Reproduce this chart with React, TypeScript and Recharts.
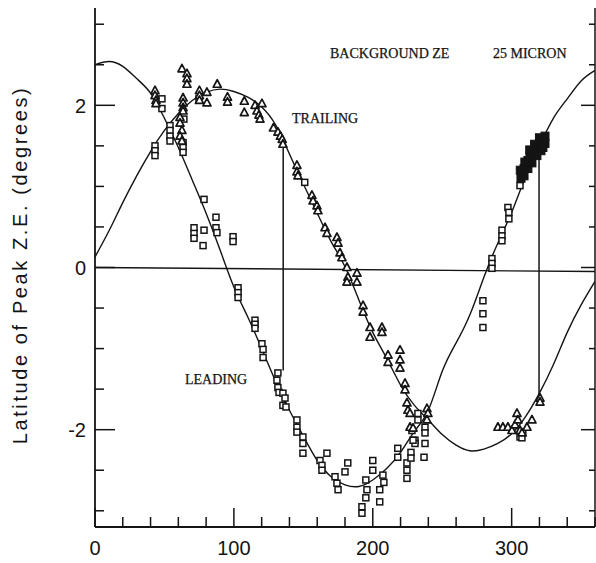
import { ComposedChart, Line, Scatter, XAxis, YAxis, ReferenceLine } from "recharts";

// longitude (deg) sampled every 10 for the two fitted curves
const curveLongitudes = [
  0, 10, 20, 30, 40, 50, 60, 70, 80, 90, 100, 110, 120, 130, 140, 150, 160, 170, 180,
  190, 200, 210, 220, 230, 240, 250, 260, 270, 280, 290, 300, 310, 320, 330, 340, 350, 360,
];
const leadingFit = [
  2.5, 2.54, 2.48, 2.33, 2.15, 1.84, 1.48, 1.08, 0.67, 0.22, -0.24, -0.61, -1.0, -1.4, -1.76,
  -2.08, -2.38, -2.58, -2.68, -2.7, -2.62, -2.48, -2.28, -2.02, -1.76, -1.28, -0.93, -0.58,
  -0.12, 0.3, 0.68, 1.12, 1.5, 1.84, 2.08, 2.3, 2.43,
];
const trailingFit = [
  0.13, 0.45, 0.8, 1.13, 1.43, 1.69, 1.9, 2.06, 2.16, 2.2, 2.17, 2.1, 1.98, 1.76, 1.4, 1.03,
  0.67, 0.32, 0.01, -0.4, -0.8, -1.12, -1.45, -1.7, -1.88, -2.06, -2.19, -2.26, -2.24, -2.17,
  -2.05, -1.84, -1.55, -1.2, -0.8, -0.46, -0.17,
];

// leading-side measurements (open squares)
const leadingPoints: [number, number][] = [
  [48.2, 2.08], [48.2, 1.96], [43.2, 1.5], [43.2, 1.44], [43.2, 1.38],
  [54, 1.75], [54, 1.69], [54, 1.62], [54, 1.56], [64, 1.83],
  [63.4, 1.54], [63.4, 1.48], [63.4, 1.42], [74.9, 2.08], [151, 1.05],
  [78.5, 0.84], [87.1, 0.62], [87.1, 0.49], [87.8, 0.43],
  [71.3, 0.49], [71.3, 0.42], [71.3, 0.36], [78.5, 0.46], [77.8, 0.27],
  [99.4, 0.38], [99.4, 0.32],
  [103, -0.25], [103, -0.31], [103, -0.37],
  [115.2, -0.65], [115.2, -0.7], [115.2, -0.75],
  [120.2, -0.94], [121, -1.01], [121, -1.11],
  [131.7, -1.3], [131, -1.39], [131.7, -1.48], [132.5, -1.54],
  [135.3, -1.55], [136.8, -1.61], [135.3, -1.7], [137.5, -1.72],
  [145.4, -1.88], [145.4, -1.97], [145.4, -2.03],
  [149.7, -2.09], [149.7, -2.17], [149.7, -2.29],
  [162, -2.38], [163.4, -2.44], [163.4, -2.5], [167, -2.29],
  [172.8, -2.58], [174.2, -2.66], [175, -2.74], [180, -2.52], [182, -2.41],
  [192.2, -2.95], [192.2, -3.03], [195, -2.62], [195.8, -2.74], [195, -2.84],
  [200, -2.38], [200, -2.5],
  [205, -2.74], [205, -2.89], [207.3, -2.56], [208, -2.65],
  [218, -2.23], [218, -2.34],
  [224.6, -2.41], [224.6, -2.5], [224.6, -2.6],
  [227.5, -2.28], [227.5, -2.35], [230.4, -2.13], [230.4, -2.17],
  [232.5, -1.8], [232.5, -1.88],
  [237.6, -1.97], [237.6, -2.04], [237.6, -2.17], [236.9, -2.34],
  [228.2, -2.01], [229, -2.13],
  [279.3, -0.41], [279.3, -0.57], [279.3, -0.74],
  [285.8, 0.11], [285.8, 0.05], [285.8, -0.01],
  [293, 0.46], [293, 0.39], [293, 0.33],
  [297.3, 0.74], [298, 0.68], [298, 0.6], [306, 1.01],
  [306, -2.09], [308, -2.04], [307.4, -2.1],
];

// dense run near 310-325 that prints as a solid band
const denseLeadingPoints: [number, number][] = [
  [306.7, 1.1], [307.4, 1.17], [308.9, 1.22], [310.3, 1.27], [311.7, 1.32],
  [313.2, 1.37], [314.6, 1.42], [316, 1.44], [317.5, 1.48], [318.9, 1.5],
  [320.4, 1.54], [321.8, 1.56], [323.3, 1.59], [324, 1.62], [324, 1.53],
  [321.1, 1.44], [318.2, 1.38], [314.6, 1.29], [311.7, 1.22], [308.9, 1.13],
  [306.2, 1.2], [309.5, 1.3], [313, 1.45], [316.5, 1.52], [320, 1.6], [322.5, 1.48],
];

// trailing-side measurements (triangles)
const trailingPoints: [number, number][] = [
  [43.2, 2.18], [43.2, 2.12], [43.9, 2.06], [43.9, 2.02],
  [62.6, 2.45], [66.2, 2.39], [66.2, 2.33], [66.2, 2.26],
  [63.4, 2.09], [63.4, 2.03], [63.4, 1.97], [63.4, 1.93],
  [61.2, 1.85], [61.2, 1.78], [62.6, 1.69], [61.2, 1.62], [62.6, 1.56],
  [75.2, 2.18], [75.2, 2.12], [75.2, 2.06], [80.6, 2.16], [80.6, 2.03],
  [88, 2.26], [95.4, 2.1], [95.4, 2.04], [107.5, 2.05], [107.5, 1.91],
  [115.2, 2.0], [116.6, 1.93], [118, 1.88], [120.2, 2.02], [118.8, 1.83],
  [128.5, 1.72], [131.7, 1.67], [133.5, 1.62], [134.8, 1.58], [135.3, 1.52],
  [145.4, 1.26], [145.4, 1.18], [146.1, 1.13],
  [156.2, 0.89], [157, 0.82], [159.8, 0.76], [160.5, 0.7],
  [165.6, 0.49], [167, 0.42],
  [174.2, 0.37], [175, 0.3], [176.4, 0.18], [177.8, 0.12],
  [181.4, 0.0], [182.1, -0.12], [181.4, -0.18], [188.6, -0.07], [188.6, -0.18],
  [193, -0.47], [193, -0.55],
  [198, -0.74], [198, -0.86], [206.6, -0.74], [206.6, -0.8],
  [211, -1.08], [211, -1.17], [219.6, -1.02], [219.6, -1.14], [219.6, -1.24],
  [223.2, -1.43], [223.2, -1.51], [224.6, -1.67], [225.3, -1.76], [226.8, -1.8],
  [226.8, -1.97], [229, -1.98], [239, -1.74], [239.7, -1.8], [239, -1.88],
  [290.1, -1.97], [293.7, -1.97], [297.3, -1.97], [300.2, -2.01], [302.4, -1.94],
  [303.8, -1.8], [304.5, -1.88], [306, -2.01], [307.4, -2.04], [311, -1.97],
  [314.6, -1.88], [320.4, -1.61], [320.4, -1.66],
];

// connectors and the zero line
const connectorA: [number, number][] = [[135.5, 1.55], [135.5, -1.27]];
const connectorB: [number, number][] = [[319.7, 1.5], [319.7, -1.62]];
const zeroLine: [number, number][] = [[0, 0.0], [360, -0.05]];

const xTicks = [0, 20, 40, 60, 80, 100, 120, 140, 160, 180, 200, 220, 240, 260, 280, 300, 320, 340, 360];
const yTicks = [-3, -2.5, -2, -1.5, -1, -0.5, 0, 0.5, 1, 1.5, 2, 2.5, 3];
const yLabelled = [-2, 0, 2];

const ink = "#141414";

const toPts = (arr: [number, number][]) => arr.map(([x, y]) => ({ x, y }));
const leadingCurve = curveLongitudes.map((x, i) => ({ x, y: leadingFit[i] }));
const trailingCurve = curveLongitudes.map((x, i) => ({ x, y: trailingFit[i] }));

const BottomTick = (p: any) => {
  const v = p.payload.value;
  const major = v % 100 === 0;
  return (
    <g>
      <line x1={p.x} x2={p.x} y1={p.y} y2={p.y - (major ? 19 : 10)} stroke={ink} strokeWidth={1.5} />
      {major && v < 360 && (
        <text x={p.x} y={p.y + 28} textAnchor="middle" fontSize={20} fontFamily="Liberation Sans, Arial, sans-serif" fill={ink}>
          {v}
        </text>
      )}
    </g>
  );
};

const TopTick = (p: any) => {
  const major = p.payload.value % 100 === 0;
  return <line x1={p.x} x2={p.x} y1={p.y} y2={p.y + (major ? 20 : 10)} stroke={ink} strokeWidth={1.5} />;
};

const LeftTick = (p: any) => {
  const v = p.payload.value;
  const major = yLabelled.includes(v);
  return (
    <g>
      <line x1={p.x} x2={p.x + (major ? 20 : 9)} y1={p.y} y2={p.y} stroke={ink} strokeWidth={1.5} />
      {major && (
        <text x={p.x - 9} y={p.y + 7.5} textAnchor="end" fontSize={20} fontFamily="Liberation Sans, Arial, sans-serif" fill={ink}>
          {v < 0 ? `-${-v}` : v}
        </text>
      )}
    </g>
  );
};

const RightTick = (p: any) => {
  const major = yLabelled.includes(p.payload.value);
  return <line x1={p.x} x2={p.x - (major ? 14 : 6)} y1={p.y} y2={p.y} stroke={ink} strokeWidth={1.5} />;
};

const OpenSquare = (p: any) => (
  <rect x={p.cx - 3} y={p.cy - 3} width={6} height={6} fill="#fff" stroke={ink} strokeWidth={1.5} />
);
const SolidSquare = (p: any) => (
  <rect x={p.cx - 4} y={p.cy - 4} width={8} height={8} fill={ink} stroke={ink} strokeWidth={1} />
);
const OpenTriangle = (p: any) => (
  <polygon
    points={`${p.cx},${p.cy - 4.5} ${p.cx - 4},${p.cy + 3} ${p.cx + 4},${p.cy + 3}`}
    fill="#fff"
    stroke={ink}
    strokeWidth={1.7}
    strokeLinejoin="round"
  />
);

const serif = "Liberation Serif, Times New Roman, serif";

export default function App() {
  return (
    <div style={{ position: "absolute", left: 0, top: 0, width: 596, height: 563, background: "#fff" }}>
      <ComposedChart width={596} height={563} margin={{ top: 8, right: 0, bottom: 0, left: 0 }}>
        <XAxis
          type="number"
          dataKey="x"
          domain={[0, 360]}
          ticks={xTicks}
          interval={0}
          allowDataOverflow
          height={36}
          tickSize={0}
          tickMargin={0}
          tickLine={false}
          axisLine={{ stroke: ink, strokeWidth: 1.8 }}
          tick={BottomTick}
        />
        <XAxis
          xAxisId="top"
          orientation="top"
          type="number"
          dataKey="x"
          domain={[0, 360]}
          ticks={xTicks}
          interval={0}
          allowDataOverflow
          height={0}
          tickSize={0}
          tickMargin={0}
          tickLine={false}
          axisLine={{ stroke: ink, strokeWidth: 1.5 }}
          tick={TopTick}
        />
        <YAxis
          type="number"
          dataKey="y"
          domain={[-3.2, 3.2]}
          ticks={yTicks}
          interval={0}
          allowDataOverflow
          width={95}
          tickSize={0}
          tickMargin={0}
          tickLine={false}
          axisLine={{ stroke: ink, strokeWidth: 1.8 }}
          tick={LeftTick}
        />
        <YAxis
          yAxisId="right"
          orientation="right"
          type="number"
          dataKey="y"
          domain={[-3.2, 3.2]}
          ticks={yTicks}
          interval={0}
          allowDataOverflow
          width={1}
          tickSize={0}
          tickMargin={0}
          tickLine={false}
          axisLine={{ stroke: ink, strokeWidth: 1.5 }}
          tick={RightTick}
        />
        <ReferenceLine segment={toPts(zeroLine)} stroke={ink} strokeWidth={1.4} />
        <Line data={leadingCurve} dataKey="y" type="natural" stroke={ink} strokeWidth={1.4} dot={false} isAnimationActive={false} />
        <Line data={trailingCurve} dataKey="y" type="natural" stroke={ink} strokeWidth={1.4} dot={false} isAnimationActive={false} />
        <ReferenceLine segment={toPts(connectorA)} stroke={ink} strokeWidth={1.5} />
        <ReferenceLine segment={toPts(connectorB)} stroke={ink} strokeWidth={1.5} />
        <Scatter data={toPts(leadingPoints)} dataKey="y" shape={OpenSquare} isAnimationActive={false} />
        <Scatter data={toPts(denseLeadingPoints)} dataKey="y" shape={SolidSquare} isAnimationActive={false} />
        <Scatter data={toPts(trailingPoints)} dataKey="y" shape={OpenTriangle} isAnimationActive={false} />
      </ComposedChart>
      <svg width={596} height={563} style={{ position: "absolute", left: 0, top: 0, pointerEvents: "none" }}>
        <g fontFamily={serif} fontSize={14} fill={ink} stroke={ink} strokeWidth={0.25}>
          <text x={330} y={58}>BACKGROUND ZE</text>
          <text x={493} y={58}>25 MICRON</text>
          <text x={292} y={123}>TRAILING</text>
          <text x={185} y={384}>LEADING</text>
        </g>
        <text
          transform="translate(27,265) rotate(-90)"
          textAnchor="middle"
          fontFamily="Liberation Sans, Arial, sans-serif"
          fontSize={20}
          letterSpacing={2.6}
          fill={ink}
        >
          Latitude of Peak Z.E. (degrees)
        </text>
      </svg>
    </div>
  );
}
